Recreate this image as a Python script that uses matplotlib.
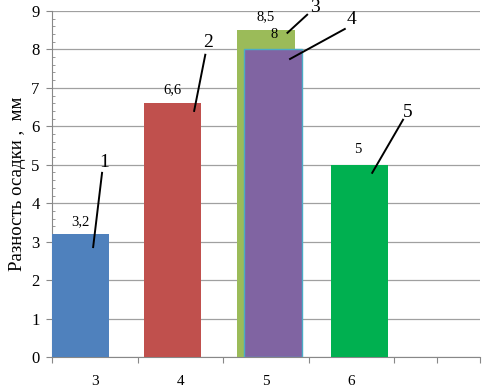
import matplotlib
matplotlib.use('Agg')
import matplotlib.pyplot as plt
import numpy as np

plt.rcParams['font.family'] = ['Liberation Serif', 'DejaVu Serif']

# data
categories = ['3', '4', '5', '6']
values = [3.2, 6.6, 8.5, 8.0, 5.0]
value_labels = ['3,2', '6,6', '8,5', '8', '5']
series_ids = ['1', '2', '3', '4', '5']
colors = ['#4F81BD', '#C0504D', '#9BBB59', '#8064A2', '#00B050']

# layout (bar centres in category units, annotation geometry)
bar_x = [0.333, 1.41, 2.50, 2.58, 3.595]
bar_w = 0.67
label_xy = [(0.33, 3.51), (1.41, 6.95), (2.49, 8.85), (2.59, 8.38), (3.57, 5.39)]
line_from = [(0.48, 2.86), (1.66, 6.40), (2.75, 8.43), (2.78, 7.75), (3.74, 4.79)]
line_to = [(0.584, 4.79), (1.79, 7.86), (2.98, 8.90), (3.42, 8.53), (4.10, 6.17)]
id_xy = [(0.61, 5.05), (1.82, 8.19), (3.07, 9.08), (3.50, 8.77), (4.16, 6.37)]

fig = plt.figure(figsize=(4.82, 3.89), dpi=100)
ax = fig.add_axes([0.108, 0.082, 0.888, 0.89])

for i, v in enumerate(values):
    ec = '#4BACC6' if i == 3 else 'none'
    ax.bar(bar_x[i], v, width=bar_w, color=colors[i], edgecolor=ec, linewidth=1, zorder=3 + i * 0.1)
    ax.text(label_xy[i][0], label_xy[i][1], value_labels[i], ha='center', va='center', fontsize=10.5, zorder=6)
    ax.plot([line_from[i][0], line_to[i][0]], [line_from[i][1], line_to[i][1]],
            color='black', lw=1.4, zorder=6, clip_on=False)
    ax.text(id_xy[i][0], id_xy[i][1], series_ids[i], ha='center', va='center', fontsize=14, zorder=6,
            clip_on=False)

ax.set_xlim(0, 5)
ax.set_ylim(0, 9)
ax.set_yticks(np.arange(0, 10, 1))
ax.set_yticks(np.arange(0, 9.01, 0.2), minor=True)
ax.yaxis.grid(True, color='#A0A0A0', lw=0.9, zorder=0)
ax.set_xticks([0, 1, 2, 3, 4, 4.5, 5])
ax.set_xticklabels([])
ax.set_xticks([0.5, 1.5, 2.5, 3.5], minor=True)
ax.set_xticklabels(categories, minor=True)
ax.tick_params(axis='x', which='minor', length=0, labelsize=11, pad=13)
ax.tick_params(axis='x', which='major', length=4, color='#888888', direction='out')
ax.tick_params(axis='y', which='major', length=4, labelsize=12, color='#888888', pad=5)
ax.tick_params(axis='y', which='minor', length=2.5, color='#888888', direction='in')
for s in ['top', 'right']:
    ax.spines[s].set_visible(False)
for s in ['left', 'bottom']:
    ax.spines[s].set_color('#888888')
ax.set_ylabel('Разность осадки ,  мм', fontsize=13.5, labelpad=4)

fig.savefig('out.png', dpi=100)
